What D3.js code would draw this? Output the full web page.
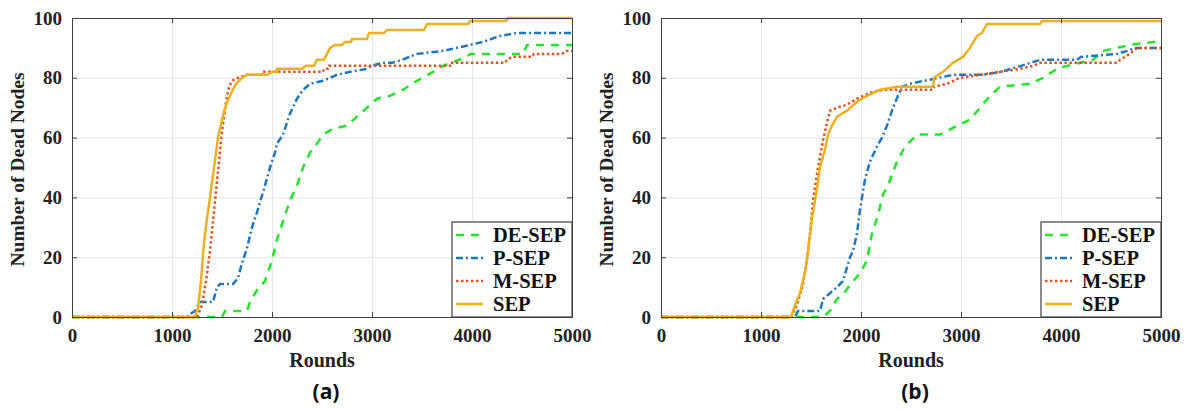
<!DOCTYPE html>
<html>
<head>
<meta charset="utf-8">
<script src="https://cdn.jsdelivr.net/npm/d3@7"></script>
<style>
    body { margin: 0; background: #fff; }
    svg { display: block; }
    .tick text { font-family: "Liberation Serif", "Times New Roman", serif; font-weight: bold; font-size: 19px; fill: #222; }
</style>
</head>
<body>
<div id="chart"></div>
<script>
// Number of dead nodes over rounds
// each point is [round, dead nodes]

// panel (a)
var deSepA = [[0,0],[1500,0],[1530,2],[1750,2],[1780,5],[1850,9],[1930,12],[2000,19],[2050,26],[2110,32],[2180,39],[2250,44],[2310,50],[2380,55],[2450,58],[2510,61],[2610,63],[2750,64],[2850,67],[2950,70],[3050,73],[3180,74],[3310,76],[3450,79],[3610,82],[3710,84],[3950,87],[3980,88],[4510,88],[4550,91],[5000,91]];
var pSepA = [[0,0],[1150,0],[1180,1],[1230,2],[1280,5],[1410,5],[1450,10],[1480,11],[1610,11],[1660,13],[1700,18],[1750,23],[1800,30],[1850,35],[1930,44],[1980,50],[2030,55],[2050,58],[2110,61],[2180,68],[2250,73],[2310,76],[2380,78],[2510,79],[2650,81],[2780,82],[2950,83],[2990,84],[3110,85],[3200,85],[3300,86],[3450,88],[3710,89],[3980,91],[4110,92],[4280,94],[4450,95],[5000,95]];
var mSepA = [[0,0],[1250,0],[1300,4],[1340,12],[1380,22],[1410,32],[1440,42],[1470,52],[1500,62],[1540,72],[1570,77],[1600,79],[1660,80],[1750,81],[1900,81],[1900,82],[2510,82],[2520,83],[2560,83],[2570,84],[3780,84],[3780,85],[4330,85],[4350,86],[4400,87],[4600,87],[4620,88],[4900,88],[4950,89],[5000,89]];
var sepA = [[0,0],[1230,0],[1260,3],[1290,12],[1320,25],[1350,33],[1380,40],[1420,50],[1460,60],[1500,66],[1540,71],[1580,74],[1640,78],[1700,80],[1750,81],[1950,81],[2000,82],[2050,82],[2050,83],[2300,83],[2340,84],[2420,84],[2450,86],[2520,86],[2550,88],[2580,90],[2630,91],[2700,91],[2730,92],[2790,92],[2800,93],[2950,93],[2970,95],[3120,95],[3150,96],[3520,96],[3550,98],[3960,98],[3980,99],[4340,99],[4360,100],[5000,100]];

// panel (b)
var deSepB = [[0,0],[1620,0],[1690,2],[1760,6],[1830,8],[1920,12],[2000,15],[2060,19],[2110,28],[2170,34],[2220,41],[2270,44],[2360,52],[2440,57],[2560,61],[2790,61],[2850,62],[2960,64],[3090,66],[3190,70],[3290,74],[3390,77],[3690,78],[3820,80],[3960,83],[4060,84],[4320,86],[4420,89],[4690,91],[4920,92],[5000,92]];
var pSepB = [[0,0],[1340,0],[1370,2],[1590,2],[1620,6],[1690,8],[1760,10],[1820,12],[1890,20],[1920,22],[1960,28],[1990,36],[2040,46],[2090,52],[2160,57],[2210,60],[2260,64],[2320,70],[2370,74],[2410,77],[2490,78],[2920,81],[3220,81],[3400,82],[3600,84],[3790,86],[4160,86],[4200,87],[4560,88],[4660,89],[4750,90],[5000,90]];
var mSepB = [[0,0],[1300,0],[1360,4],[1420,11],[1460,19],[1490,28],[1520,39],[1570,50],[1620,59],[1660,65],[1690,69],[1760,70],[1860,71],[1960,73],[2090,75],[2220,76],[2720,76],[2730,77],[2860,78],[2990,80],[3190,81],[3390,82],[3590,83],[3720,84],[3790,85],[4560,85],[4590,86],[4690,88],[4760,90],[5000,90]];
var sepB = [[0,0],[1300,0],[1340,4],[1390,8],[1440,15],[1470,22],[1510,33],[1560,43],[1590,50],[1640,56],[1670,61],[1710,64],[1760,67],[1860,69],[1960,72],[2060,74],[2190,76],[2360,77],[2720,77],[2730,80],[2820,82],[2920,85],[3020,87],[3090,90],[3160,94],[3210,95],[3260,98],[3790,98],[3810,99],[5000,99]];

var seriesNames = ["DE-SEP", "P-SEP", "M-SEP", "SEP"];
var xTicks = [0, 1000, 2000, 3000, 4000, 5000];
var yTicks = [0, 20, 40, 60, 80, 100];
var panelLabels = ["(a)", "(b)"];

// line styles per series (matlab-ish colors)
var styles = [
    { color: "#22e62a", dash: "8,7" },
    { color: "#1f77c0", dash: "7,3,2,3" },
    { color: "#dc5520", dash: "2.5,2.5" },
    { color: "#edb120", dash: null }
];

var W = 1189, H = 411;
var plotW = 500, plotH = 299, marginTop = 18;
var svg = d3.select("#chart").append("svg").attr("width", W).attr("height", H);
var serif = '"Liberation Serif", "Times New Roman", serif';

function drawPanel(left, data, label) {
    var x = d3.scaleLinear().domain([0, 5000]).range([0, plotW]);
    var y = d3.scaleLinear().domain([0, 100]).range([plotH, 0]);
    var g = svg.append("g").attr("transform", "translate(" + left + "," + marginTop + ")");

    // grid
    g.append("g").attr("transform", "translate(0," + plotH + ")")
        .call(d3.axisBottom(x).tickValues(xTicks).tickSize(-plotH).tickFormat(""))
        .call(a => a.select(".domain").remove())
        .selectAll("line").attr("stroke", "#e6e6e6");
    g.append("g")
        .call(d3.axisLeft(y).tickValues(yTicks).tickSize(-plotW).tickFormat(""))
        .call(a => a.select(".domain").remove())
        .selectAll("line").attr("stroke", "#e6e6e6");

    // lines
    var line = d3.line().x(d => x(d[0])).y(d => y(d[1]));
    data.forEach(function(s, i) {
        g.append("path").datum(s)
            .attr("fill", "none")
            .attr("stroke", styles[i].color)
            .attr("stroke-width", 2.5)
            .attr("stroke-dasharray", styles[i].dash)
            .attr("d", line);
    });

    // axes with ticks inside, box all round
    var ax = g.append("g").attr("transform", "translate(0," + plotH + ")")
        .call(d3.axisBottom(x).tickValues(xTicks).tickSize(-5).tickPadding(12).tickFormat(d3.format("d")));
    var ay = g.append("g")
        .call(d3.axisLeft(y).tickValues(yTicks).tickSize(-5).tickPadding(10).tickFormat(d3.format("d")));
    var at = g.append("g")
        .call(d3.axisTop(x).tickValues(xTicks).tickSize(-5).tickFormat(""));
    var ar = g.append("g").attr("transform", "translate(" + plotW + ",0)")
        .call(d3.axisRight(y).tickValues(yTicks).tickSize(-5).tickFormat(""));
    [ax, ay, at, ar].forEach(function(a) {
        a.select(".domain").attr("stroke", "#404040");
        a.selectAll(".tick line").attr("stroke", "#404040");
    });

    // axis titles
    g.append("text").attr("x", plotW / 2).attr("y", plotH + 50)
        .attr("text-anchor", "middle")
        .attr("font-family", serif).attr("font-weight", "bold").attr("font-size", 20)
        .attr("fill", "#222").text("Rounds");
    g.append("text")
        .attr("transform", "translate(" + (-48) + "," + (plotH / 2 + 2) + ") rotate(-90)")
        .attr("text-anchor", "middle")
        .attr("font-family", serif).attr("font-weight", "bold").attr("font-size", 19.5)
        .attr("fill", "#222").text("Number of Dead Nodes");

    // panel label
    g.append("text").attr("x", plotW / 2 + 4).attr("y", plotH + 82)
        .attr("text-anchor", "middle")
        .attr("font-family", '"Open Sans", "Liberation Sans", sans-serif').attr("font-weight", "bold").attr("font-size", 21)
        .attr("fill", "#111").text(label);

    // legend box in the lower right corner
    var lg = g.append("g").attr("transform", "translate(" + (plotW - 120) + "," + (plotH - 95) + ")");
    lg.append("rect").attr("width", 120).attr("height", 95)
        .attr("fill", "#fff").attr("stroke", "#404040").attr("stroke-width", 1.2);
    seriesNames.forEach(function(name, i) {
        var ry = 13 + i * 23;
        lg.append("line").attr("x1", 4).attr("x2", 31).attr("y1", ry).attr("y2", ry)
            .attr("stroke", styles[i].color).attr("stroke-width", 2.5)
            .attr("stroke-dasharray", styles[i].dash);
        lg.append("text").attr("x", 41).attr("y", ry).attr("dy", "0.35em")
            .attr("font-family", serif).attr("font-weight", "bold").attr("font-size", 20.5)
            .attr("fill", "#111").text(name);
    });
}

drawPanel(72, [deSepA, pSepA, mSepA, sepA], panelLabels[0]);
drawPanel(661, [deSepB, pSepB, mSepB, sepB], panelLabels[1]);
</script>
</body>
</html>
